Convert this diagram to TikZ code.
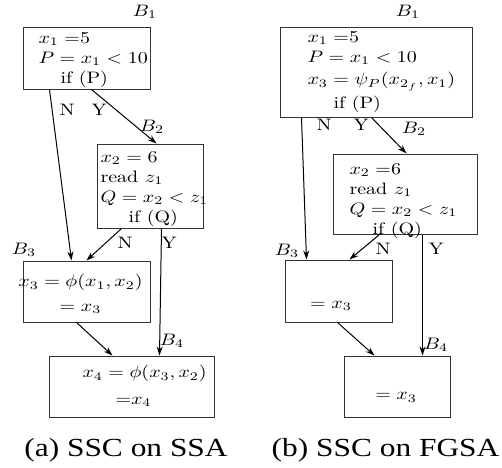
\documentclass[tikz,border=0pt]{standalone}
\usepackage{fontspec}
\newfontfamily\capfont{Liberation Serif}
\usetikzlibrary{positioning, arrows.meta}
\tikzset{
->, % every connector is directed
>={Stealth[length=4.5pt, width=3pt]}, % narrow arrow heads
blk/.style={draw=black!80, inner sep=0pt}, % a basic block
txt/.style={yscale=0.83, inner sep=0pt, align=left}, % statements in a block, placed by their last line
lbl/.style={yscale=0.83, inner sep=0pt}, % block names and branch letters
subcap/.style={yscale=0.83, inner sep=0pt, font=\capfont\fontsize{15.7}{18}\selectfont}, % sub captions
}
\begin{document}
\begin{tikzpicture}[x=0.5pt, y=-0.5pt, line width=0.5pt]
\useasboundingbox (0,0) rectangle (502,467);

% (a) SSC on SSA
\node[blk, minimum width=63.5pt, minimum height=31pt] (a1) at (86.5,58) {};
\node[blk, minimum width=53pt, minimum height=42pt] (a2) at (150,186) {};
\node[blk, minimum width=63.5pt, minimum height=30.5pt] (a3) at (86.5,291.5) {};
\node[blk, minimum width=82.5pt, minimum height=30.5pt] (a4) at (131.5,386.5) {};

\node[txt, anchor=base west] (a1txt) at (38,83) {$x_1 =$5\\ $P = x_1 < 10$\\ \hspace*{11pt}if (P)};
\node[txt, anchor=base west] (a2txt) at (100,222) {$x_2 = 6$\\ read $z_1$\\ $Q = x_2 < z_1$\\ \hspace*{14pt}if (Q)};
\node[txt, align=center, anchor=base] (a3txt) at (80.5,311) {$x_3 = \phi(x_1, x_2)$\\[2.5pt] $= x_3$};
\node[txt, anchor=base west] (a4txt) at (82,404) {$x_4 = \phi(x_3, x_2)$\\[3.7pt] \hspace*{16.5pt}=$x_4$};

\node[lbl] (a1name) at (145,12) {$B_1$};
\node[lbl] (a2name) at (152,127) {$B_2$};
\node[lbl] (a3name) at (24,250) {$B_3$};
\node[lbl] (a4name) at (172,341) {$B_4$};

\draw ([xshift=13.5pt]a1.south west) -- ([xshift=24.5pt]a3.north west);
\draw ([xshift=34.5pt]a1.south west) -- ([xshift=30pt]a2.north west);
\draw ([xshift=12.5pt]a2.south west) -- ([xshift=32pt]a3.north west);
\draw ([xshift=32.5pt]a2.south west) -- ([xshift=55.5pt]a4.north west);
\draw ([xshift=27pt]a3.south west) -- ([xshift=32pt]a4.north west);

\node[lbl] (a1n) at (67,110) {N};
\node[lbl] (a1y) at (99,110) {Y};
\node[lbl] (a2n) at (125,243) {N};
\node[lbl] (a2y) at (169,243) {Y};

\node[subcap, anchor=base] (acap) at (126,456) {(a) SSC on SSA};

% (b) SSC on FGSA
\node[blk, minimum width=96pt, minimum height=45pt] (b1) at (376,72) {};
\node[blk, minimum width=72pt, minimum height=40pt] (b2) at (405,194) {};
\node[blk, minimum width=53.5pt, minimum height=31pt] (b3) at (338.5,291) {};
\node[blk, minimum width=53pt, minimum height=30.5pt] (b4) at (397,386.5) {};

\node[txt, anchor=base west] (b1txt) at (307,108) {$x_1 =$5\\ $P = x_1 < 10$\\[1.7pt] $x_3 = \psi_P(x_{2_f}, x_1)$\\[2pt] \hspace*{13pt}if (P)};
\node[txt, anchor=base west] (b2txt) at (349,234) {$x_2 =$6\\ read $z_1$\\ $Q = x_2 < z_1$\\ \hspace*{11.5pt}if (Q)};
\node[txt, anchor=base] (b3txt) at (331,308) {$= x_3$};
\node[txt, anchor=base] (b4txt) at (396,399.5) {$= x_3$};

\node[lbl] (b1name) at (408,12) {$B_1$};
\node[lbl] (b2name) at (414,129) {$B_2$};
\node[lbl] (b3name) at (287,251) {$B_3$};
\node[lbl] (b4name) at (436,345) {$B_4$};

\draw ([xshift=11pt]b1.south west) -- ([xshift=11pt]b3.north west);
\draw ([xshift=46pt]b1.south west) -- ([xshift=37pt]b2.north west);
\draw ([xshift=23.5pt]b2.south west) -- ([xshift=32.5pt]b3.north west);
\draw ([xshift=45pt]b2.south west) -- ([xshift=39.5pt]b4.north west);
\draw ([xshift=26.5pt]b3.south west) -- ([xshift=15.5pt]b4.north west);

\node[lbl] (b1n) at (324,125) {N};
\node[lbl] (b1y) at (361,125) {Y};
\node[lbl] (b2n) at (383,249) {N};
\node[lbl] (b2y) at (436,249) {Y};

\node[subcap, anchor=base] (bcap) at (385.5,456) {(b) SSC on FGSA};
\end{tikzpicture}
\end{document}
